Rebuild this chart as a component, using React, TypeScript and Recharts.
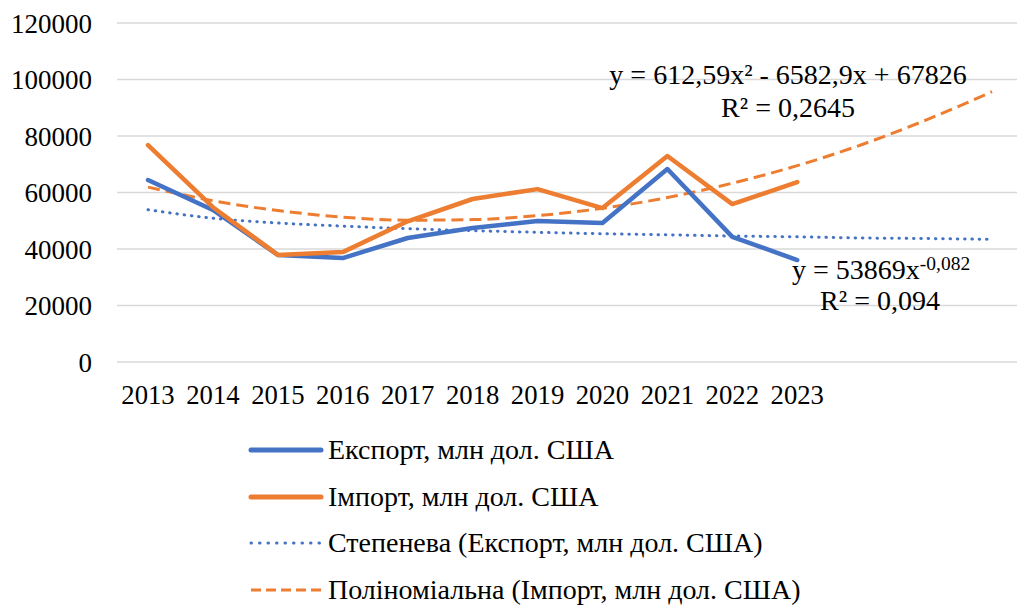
import React from 'react';
import { LineChart, Line, XAxis, YAxis, CartesianGrid } from 'recharts';

// періоди: 2013–2023 + 3 прогнозні (для ліній тренду)
const periods = ['2013', '2014', '2015', '2016', '2017', '2018', '2019', '2020', '2021', '2022', '2023', 'f1', 'f2', 'f3'];
const yearLabels = ['2013', '2014', '2015', '2016', '2017', '2018', '2019', '2020', '2021', '2022', '2023'];

const exportValues = [64400, 53800, 37900, 36800, 43900, 47400, 49900, 49200, 68300, 44300, 36100];
const importValues = [76800, 54800, 37900, 38900, 49800, 57700, 61200, 54500, 72900, 55900, 63700];

// лінії тренду
const powerTrend = [53900, 50900, 49200, 48100, 47200, 46500, 45900, 45400, 45000, 44600, 44300, 43900, 43700, 43400];
const polyTrend = [61900, 57100, 53600, 51300, 50200, 50400, 51800, 54400, 58200, 63300, 69500, 77000, 85800, 95700];

const yTicks = [0, 20000, 40000, 60000, 80000, 100000, 120000];

const BLUE = '#4472C4';
const ORANGE = '#ED7D31';
const FONT = 'Liberation Serif, DejaVu Serif, serif';

const data = periods.map((p, i) => ({
  period: p,
  exp: exportValues[i],
  imp: importValues[i],
  pow: powerTrend[i],
  poly: polyTrend[i],
}));

const legendItems = [
  { label: 'Експорт, млн дол. США', color: BLUE, width: 5, dash: undefined, cap: 'round' },
  { label: 'Імпорт, млн дол. США', color: ORANGE, width: 5, dash: undefined, cap: 'round' },
  { label: 'Степенева (Експорт, млн дол. США)', color: BLUE, width: 3, dash: '0.5 8', cap: 'round' },
  { label: 'Поліноміальна (Імпорт, млн дол. США)', color: ORANGE, width: 3, dash: '10 5', cap: 'butt' },
];

export default function App() {
  return (
    <div
      style={{
        position: 'absolute',
        left: 0,
        top: 0,
        width: 1017,
        height: 605,
        overflow: 'hidden',
        background: '#fff',
        fontFamily: FONT,
      }}
    >
      <LineChart width={1030} height={420} data={data} margin={{ top: 23, right: 6, left: 0, bottom: 0 }}>
        <CartesianGrid vertical={false} stroke="#d9d9d9" strokeWidth={1.5} />
        <XAxis
          dataKey="period"
          axisLine={false}
          tickLine={false}
          tickSize={0}
          tickMargin={23}
          height={58}
          interval={0}
          padding={{ left: 31, right: 32 }}
          tickFormatter={(v: string) => (yearLabels.includes(v) ? v : '')}
          tick={{ fill: '#000', fontSize: 26.7, fontFamily: FONT }}
        />
        <YAxis
          domain={[0, 120000]}
          ticks={yTicks}
          interval={0}
          axisLine={false}
          tickLine={false}
          tickSize={0}
          tickMargin={25}
          width={117}
          tick={{ fill: '#000', fontSize: 27, fontFamily: FONT }}
        />
        <Line
          dataKey="pow"
          type="monotone"
          stroke={BLUE}
          strokeWidth={3}
          strokeDasharray="0.5 6.8"
          strokeLinecap="round"
          dot={false}
          activeDot={false}
          isAnimationActive={false}
        />
        <Line
          dataKey="poly"
          type="monotone"
          stroke={ORANGE}
          strokeWidth={3}
          strokeDasharray="12 6"
          dot={false}
          activeDot={false}
          isAnimationActive={false}
        />
        <Line
          dataKey="exp"
          type="linear"
          stroke={BLUE}
          strokeWidth={4.5}
          strokeLinejoin="round"
          strokeLinecap="round"
          dot={false}
          activeDot={false}
          isAnimationActive={false}
        />
        <Line
          dataKey="imp"
          type="linear"
          stroke={ORANGE}
          strokeWidth={4.5}
          strokeLinejoin="round"
          strokeLinecap="round"
          dot={false}
          activeDot={false}
          isAnimationActive={false}
        />
      </LineChart>

      {/* рівняння трендів */}
      <svg
        width={1017}
        height={420}
        style={{ position: 'absolute', left: 0, top: 0, pointerEvents: 'none', fontFamily: FONT }}
        fill="#000"
      >
        <text x={788} y={84} fontSize={28} textAnchor="middle">
          y = 612,59x² - 6582,9x + 67826
        </text>
        <text x={788} y={117} fontSize={28} textAnchor="middle">
          R² = 0,2645
        </text>
        <text x={792} y={279} fontSize={28}>
          y = 53869x
          <tspan fontSize={19.5} dy={-9}>
            -0,082
          </tspan>
        </text>
        <text x={880} y={310} fontSize={28} textAnchor="middle">
          R² = 0,094
        </text>
      </svg>

      {/* легенда */}
      {legendItems.map((item, i) => (
        <div
          key={item.label}
          style={{
            position: 'absolute',
            left: 248,
            top: 450 + i * 46.7 - 17,
            height: 34,
            display: 'flex',
            alignItems: 'center',
            whiteSpace: 'nowrap',
          }}
        >
          <svg width={76} height={10} style={{ marginRight: 4 }}>
            <line
              x1={3}
              y1={5}
              x2={73}
              y2={5}
              stroke={item.color}
              strokeWidth={item.width}
              strokeDasharray={item.dash}
              strokeLinecap={item.cap as 'round' | 'butt'}
            />
          </svg>
          <span style={{ fontSize: 28, color: '#000', lineHeight: '34px' }}>{item.label}</span>
        </div>
      ))}
    </div>
  );
}
